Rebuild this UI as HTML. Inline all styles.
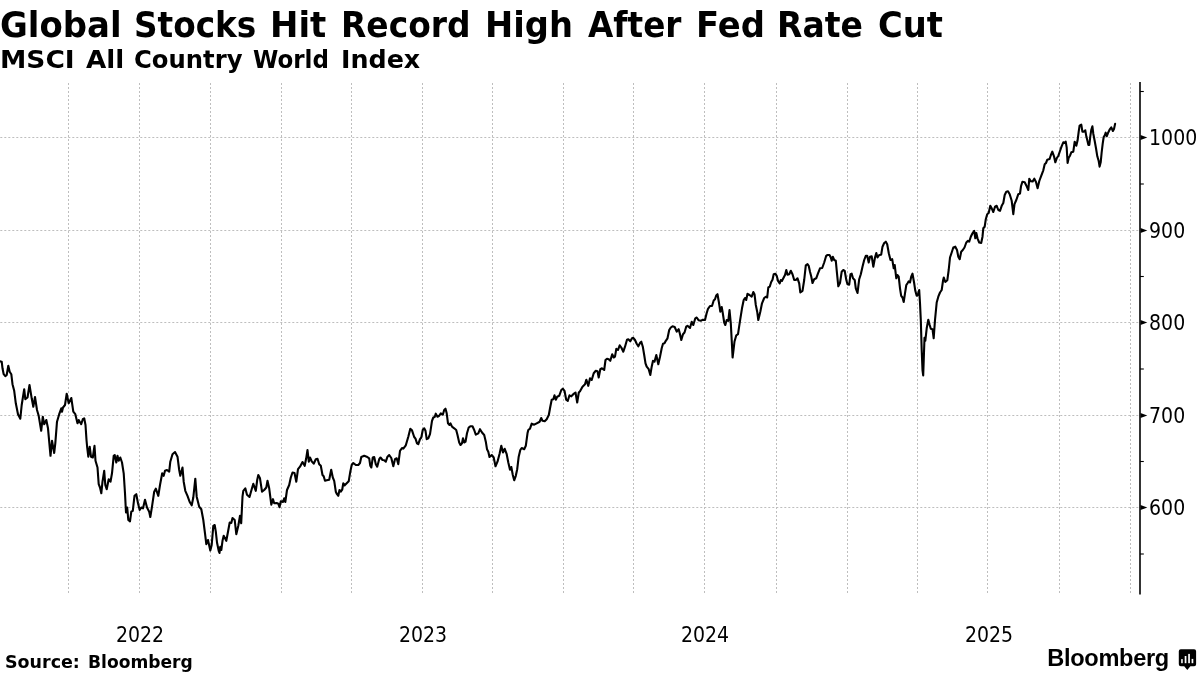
<!DOCTYPE html>
<html lang="en"><head><meta charset="utf-8"><title>Global Stocks Hit Record High After Fed Rate Cut</title>
<style>
html,body{margin:0;padding:0;background:#fff;}
body{width:1200px;height:675px;overflow:hidden;position:relative;font-family:"DejaVu Sans","Liberation Sans",sans-serif;color:#000;}
.title,.sub,.src{position:absolute;left:0;top:0;width:0;height:0;}
.w{position:absolute;white-space:nowrap;transform-origin:0 0;display:block;}
.logo{position:absolute;left:1047.3px;top:644.3px;font-family:"Liberation Sans",sans-serif;font-weight:bold;font-size:23.6px;line-height:28px;letter-spacing:-0.32px;white-space:nowrap;}
svg{position:absolute;left:0;top:0;}
.grid line{stroke:#bebebe;stroke-width:1;stroke-dasharray:2 2;}
.lbl text{font-family:"DejaVu Sans Condensed","DejaVu Sans","Liberation Sans",sans-serif;font-stretch:condensed;font-size:21px;fill:#000;}
</style></head>
<body>
<div class="title"><span class="w" style="left:0.09px;top:4.7px;font:bold 35.5px/40px 'DejaVu Sans','Liberation Sans',sans-serif;transform:scaleX(0.9557)">Global</span>
<span class="w" style="left:133.63px;top:4.7px;font:bold 35.5px/40px 'DejaVu Sans','Liberation Sans',sans-serif;transform:scaleX(0.9219)">Stocks</span>
<span class="w" style="left:269.53px;top:4.7px;font:bold 35.5px/40px 'DejaVu Sans','Liberation Sans',sans-serif;transform:scaleX(0.9564)">Hit</span>
<span class="w" style="left:341.22px;top:4.7px;font:bold 35.5px/40px 'DejaVu Sans','Liberation Sans',sans-serif;transform:scaleX(0.9269)">Record</span>
<span class="w" style="left:485.15px;top:4.7px;font:bold 35.5px/40px 'DejaVu Sans','Liberation Sans',sans-serif;transform:scaleX(0.9494)">High</span>
<span class="w" style="left:587.60px;top:4.7px;font:bold 35.5px/40px 'DejaVu Sans','Liberation Sans',sans-serif;transform:scaleX(0.9208)">After</span>
<span class="w" style="left:695.54px;top:4.7px;font:bold 35.5px/40px 'DejaVu Sans','Liberation Sans',sans-serif;transform:scaleX(0.9530)">Fed</span>
<span class="w" style="left:777.41px;top:4.7px;font:bold 35.5px/40px 'DejaVu Sans','Liberation Sans',sans-serif;transform:scaleX(0.9295)">Rate</span>
<span class="w" style="left:877.50px;top:4.7px;font:bold 35.5px/40px 'DejaVu Sans','Liberation Sans',sans-serif;transform:scaleX(0.9508)">Cut</span></div>
<div class="sub"><span class="w" style="left:0.06px;top:45.1px;font:bold 24.7px/30px 'DejaVu Sans','Liberation Sans',sans-serif;transform:scaleX(1.0723)">MSCI</span>
<span class="w" style="left:85.80px;top:45.1px;font:bold 24.7px/30px 'DejaVu Sans','Liberation Sans',sans-serif;transform:scaleX(1.0618)">All</span>
<span class="w" style="left:133.82px;top:45.1px;font:bold 24.7px/30px 'DejaVu Sans','Liberation Sans',sans-serif;transform:scaleX(0.9835)">Country</span>
<span class="w" style="left:253.07px;top:45.1px;font:bold 24.7px/30px 'DejaVu Sans','Liberation Sans',sans-serif;transform:scaleX(0.9304)">World</span>
<span class="w" style="left:340.95px;top:45.1px;font:bold 24.7px/30px 'DejaVu Sans','Liberation Sans',sans-serif;transform:scaleX(1.0270)">Index</span></div>
<svg width="1200" height="675" viewBox="0 0 1200 675">
<g class="grid">
<line x1="68.5" y1="83" x2="68.5" y2="593"/>
<line x1="139.5" y1="83" x2="139.5" y2="593"/>
<line x1="210.5" y1="83" x2="210.5" y2="593"/>
<line x1="281.5" y1="83" x2="281.5" y2="593"/>
<line x1="351.5" y1="83" x2="351.5" y2="593"/>
<line x1="422.5" y1="83" x2="422.5" y2="593"/>
<line x1="492.5" y1="83" x2="492.5" y2="593"/>
<line x1="563.5" y1="83" x2="563.5" y2="593"/>
<line x1="633.5" y1="83" x2="633.5" y2="593"/>
<line x1="704.5" y1="83" x2="704.5" y2="593"/>
<line x1="776.5" y1="83" x2="776.5" y2="593"/>
<line x1="847.5" y1="83" x2="847.5" y2="593"/>
<line x1="917.5" y1="83" x2="917.5" y2="593"/>
<line x1="987.5" y1="83" x2="987.5" y2="593"/>
<line x1="1059.5" y1="83" x2="1059.5" y2="593"/>
<line x1="1130.5" y1="83" x2="1130.5" y2="593"/>
<line x1="0.3" y1="137.5" x2="1139" y2="137.5"/>
<line x1="0.3" y1="230.5" x2="1139" y2="230.5"/>
<line x1="0.3" y1="322.5" x2="1139" y2="322.5"/>
<line x1="0.3" y1="415.5" x2="1139" y2="415.5"/>
<line x1="0.3" y1="507.5" x2="1139" y2="507.5"/>
</g>
<line x1="1140" y1="82" x2="1140" y2="594.5" stroke="#000" stroke-width="1.6"/>
<g class="lbl">
<path d="M1140.5 134.9 L1147.3 137.5 L1140.5 140.1 Z" fill="#000"/>
<text x="1149.1" y="144.9">1000</text>
<path d="M1140.5 227.9 L1147.3 230.5 L1140.5 233.1 Z" fill="#000"/>
<text x="1149.1" y="237.9">900</text>
<path d="M1140.5 319.9 L1147.3 322.5 L1140.5 325.1 Z" fill="#000"/>
<text x="1149.1" y="329.9">800</text>
<path d="M1140.5 412.9 L1147.3 415.5 L1140.5 418.1 Z" fill="#000"/>
<text x="1149.1" y="422.9">700</text>
<path d="M1140.5 504.9 L1147.3 507.5 L1140.5 510.1 Z" fill="#000"/>
<text x="1149.1" y="514.9">600</text>
<line x1="1140" y1="91.5" x2="1143.8" y2="91.5" stroke="#000" stroke-width="1.1"/>
<line x1="1140" y1="184" x2="1143.8" y2="184" stroke="#000" stroke-width="1.1"/>
<line x1="1140" y1="276.5" x2="1143.8" y2="276.5" stroke="#000" stroke-width="1.1"/>
<line x1="1140" y1="369" x2="1143.8" y2="369" stroke="#000" stroke-width="1.1"/>
<line x1="1140" y1="461.5" x2="1143.8" y2="461.5" stroke="#000" stroke-width="1.1"/>
<line x1="1140" y1="554" x2="1143.8" y2="554" stroke="#000" stroke-width="1.1"/>
<text x="140" y="641.8" text-anchor="middle">2022</text>
<text x="423" y="641.8" text-anchor="middle">2023</text>
<text x="705" y="641.8" text-anchor="middle">2024</text>
<text x="989" y="641.8" text-anchor="middle">2025</text>
</g>
<polyline fill="none" stroke="#000" stroke-width="2.1" stroke-linejoin="round" stroke-linecap="round" points="0,361.3 1.7,361.7 2.5,368.3 3.7,374.2 5.3,376.2 6.7,375 8.3,365.8 9.7,371.7 11.3,374.2 12.5,384.2 14.2,390.8 15.8,403.3 18,414.2 20.3,418.7 21.7,405 24.2,389.2 25.3,399.2 27.5,397.5 29.5,385 31.7,398.3 33.3,406.7 35,397 37,410 38.7,415.8 41.2,430.8 42.8,416.7 44.2,424.2 46.3,420 48,428.3 50.5,455.8 52,440.8 54.2,453 55.3,443.3 57,421.7 59.2,414.2 61.3,408.3 62,411.7 63,407.5 65,405 66.7,393.7 68.7,403.3 71.3,398 73.3,411.7 75.3,414.2 77.5,423.3 78.7,420 81.2,424.2 82.8,419.2 84.2,418.3 85.5,425 86.5,440 87.2,447.5 88.3,456.7 89.7,446.7 91,456.7 92.8,457.5 94.5,445.8 95.5,460.8 97.5,467.5 98.7,484.2 100,487.5 101.3,493.3 102.5,481.7 104.2,470.8 105.3,485 106.7,489.2 108.7,479.2 110.5,481.7 112,473.3 113.7,455.8 114.7,455 116.3,462.5 117.5,455.8 118.7,460.8 120.3,457.5 122,462.5 123.7,473.3 125,493.3 126,512.5 127.2,507.5 128.3,520 130,521.3 131.3,511.7 132.8,510.8 134.5,495.8 136.3,494.2 138,503.3 139.7,510 141.3,507.5 143,508.3 145,499.7 147,507.5 149.2,511.7 150.3,517 152,506.7 154.2,491.7 155.8,488.7 158.3,495.8 160,485 162.2,473.3 163.7,475.8 165,470.8 167,470 169.2,471.7 170.3,461.7 172.5,454.2 175,452 177.5,456.7 179.2,470 180.3,475.8 182.5,467.5 183.7,481.7 185.3,490.8 187.5,495.8 189.7,502 191.7,505.3 193.3,497.5 195.3,478.7 196.7,496.7 199.2,506.7 201.3,509.2 203.3,520 205,533.3 206.3,544.2 208,540 210.3,550.5 211.7,545 213.3,525.8 214.7,525 215.8,531.7 217,542.5 218.7,550.8 219.5,553 220.3,546.7 221.3,550 222.5,540.8 223.7,535.8 226.3,540.8 228,531.7 229.7,522.5 231.3,523 232.5,518 234.7,520 236.3,534.2 238.3,525.8 240,515.8 241.2,523.3 242.5,496.7 243.3,490.8 245.3,488.3 247,494.7 249.5,497 251.7,489.2 253.3,483.8 255.8,490.8 257.2,480 258.3,475 260,478.3 262,491.7 264.2,490 266.3,487.5 267.5,480.8 269.2,488.3 271.3,504.7 273,499.2 274.2,503.3 276.7,503 278.3,503.7 279.5,507.2 280.8,501.3 283,502 284.2,498.3 285.3,502 287,490 289.2,485 290.8,477.5 292.5,472.5 294.5,473 296.3,481.7 298,469.2 300,466.7 302.5,462 304.7,465.8 306.2,458.3 307.5,450 308.8,461.7 310,457.5 311.7,461.3 313.7,463.7 315.8,459.2 317.5,458.7 319.2,464.2 320.8,465.8 322.5,475 323.7,476.3 325,480.8 326.7,480.3 329.2,479.7 331.2,469.7 332.8,477.5 334.2,480.8 335.8,491.7 337,494.2 338.3,495.8 339.5,490 340.8,491.7 342.2,489.7 343.3,483.3 344.7,485.3 346.7,483.3 348.7,481.3 350.3,471.7 351.7,465 353.3,463 355.8,465 358.3,465 360,463 361.3,457 364.2,455.8 366.7,456.7 369.2,458.3 370.3,465.8 371.3,467.5 372.8,457.5 374.2,457 375.8,464.2 377.2,466.7 379.2,459.2 380.5,457.5 382.5,460 384.2,460.3 385.8,461.7 387.5,456.7 389.2,455 391.3,458 393.3,466.3 395,459.2 396.7,458.3 398.3,464.2 400,450.8 402,448 403.3,448.7 405.8,445.3 408.3,436.7 410.3,428.8 412,430.3 414.2,437 415.5,438.7 417,443.3 418.3,444.2 420,439.2 421.3,437.5 422.8,429.7 424.2,428.3 425.5,430.8 426.7,439.2 428.3,438.3 430,434.2 432,420.8 433.3,417.5 434.7,417 435.8,413.7 437.5,416.7 439.2,415.8 440.8,413.3 442.8,414.7 444.2,410 445.5,408.7 446.7,413.3 448,423.3 449.5,425 450.5,423.3 452,426.7 454.2,428.3 456.2,430 457.5,435 459.2,442.5 460.5,445 462,443.3 463,438.3 464.2,442.5 465.5,441.7 467,433.3 468.7,427.5 470.3,426.3 472.5,426.3 474.2,430 475.8,434.7 478.3,433.3 480,429.2 482,432.5 484.2,435 485.8,441.7 487,449.2 488.3,451.7 489.5,457 491.7,455 493.7,457.5 495.5,466.3 497.5,461.7 499.7,453.3 501.3,445.8 503,452.5 504.7,448.8 506.7,454.2 508.3,462.5 510,469.7 511.3,467 512.8,475 514.2,480.3 515.8,475.8 517.2,469.2 518.7,456.7 520.3,450 521.7,448 524.2,449.2 525.8,445.8 527.5,433.3 528.3,430 530,428.7 531.7,423.7 534.2,424.7 536.7,423.3 539.7,421.7 541.2,418 542.5,420.8 544.7,421.3 546.7,419.2 548.8,415 550.3,406.7 551.7,399.7 553.3,399.2 554.5,395.3 555.8,399.7 557.2,396.7 559.2,395.8 561.3,390 562.8,388.7 564.5,390.8 566.2,399.7 567.8,400.8 569.5,395.3 571.3,396.3 573.3,394.2 575.5,392.5 577.2,402.5 578.8,392.5 580,391.3 582.5,386.7 585,384.2 586.3,379.7 588.3,385.8 590,378.3 591.7,380 593.7,373.3 595.8,370.8 597.5,371.3 598.7,377.5 600.3,369.2 602,368.3 604.2,370 605.5,360 607,358.7 608.7,359.2 610.3,360.8 612.2,354.2 613.7,357.5 615,356.7 616.3,348.8 618,350 619.7,345.3 621.3,347.5 623.3,351.7 625,346.7 627,339.7 628.3,339.2 630.3,341.3 632,338.3 633.3,337.8 635,340 636.7,343.7 638.3,346.3 640.3,342.5 641.3,341.7 642.8,346.7 644.2,355 645.5,363.3 646.7,366.7 648.7,369.2 650.3,375 651.7,366.7 653,360.8 654.5,361.7 656.3,355 658.3,364.2 660,356.7 661.7,348.3 663,343.7 664.5,343.3 665.8,340.8 667.5,338.3 669.2,330 670.8,327.5 672.5,326.3 674.7,327 676.7,331.7 678.7,329.2 680,334.2 681.3,340 683,334.2 684.5,332.5 686.2,326.7 687.5,325.8 690,328 691.7,321.7 693.3,325 695.3,318.3 696.7,317.5 698.7,320.3 700.8,320.8 702.8,319.7 705,320 706.5,313.8 708,308.8 710,306 712,306 713.7,300.5 715,299.2 716.2,295.5 717.5,294.2 718.8,301.7 720.3,311.7 721.7,307 722.8,313.3 724.2,322.5 725.3,325 726.7,320 728.3,320.8 729.5,310 730.8,323.3 731.7,340 732.6,357.5 733.5,350 734.5,341.5 736.3,335.3 738,334.2 740,320.8 742,308.3 743.7,300 745,298 746.2,300 747.5,293.8 749.5,295 751.7,296.7 753.3,292 754.5,294.2 755.8,305 757.2,311.7 758.3,320 760.3,311.7 762,303.3 764.2,298 765.8,296.7 767.2,297.5 768.3,287.5 769.7,286.7 771.2,282 772.5,279.7 773.7,274.2 775.3,273.7 776.7,275.8 778,280.8 779.7,283.3 780.8,280 782,280.8 783.7,277.5 785,275 786.3,270 787.5,274.7 789.2,274.2 790.8,270.8 792.5,274.2 794.2,280 795.8,280 797.5,278.3 799.2,283.3 800.3,292.5 802.5,290.8 804.2,280 805.8,265.3 807.5,264.2 808.7,265.8 810,271.7 811.3,276.7 812.5,283 814.2,279.2 816.2,278.3 818,273.3 820,268.3 822.2,268 824.2,262.5 826.2,255.8 827.5,255 829.5,255 830.8,257.5 831.7,260.8 832.8,256.7 834.2,260 835.8,260.8 837,273.3 838.3,286.3 840,283 841.7,271.7 843.3,270 844.7,270.8 846.3,280 847.5,284.2 849.2,284.7 850.5,274.2 851.7,273.7 853,278.3 854.7,280 855.8,288.3 857.5,293 859.2,279.2 860.8,274.2 862.5,266.7 864.2,260 865.8,255.8 867.2,255.8 868.7,262.5 870,256.7 871.7,256.3 873.3,266.7 875,257.5 876.3,253 877.5,257.5 879.2,255 881.2,254.7 882.5,246.7 884.2,243 885.8,241.7 887.2,244.2 888.8,253.3 890.5,260 892.2,259.2 893.7,268.3 894.7,265 896.3,278.3 897.5,275 898.7,276.7 900,288.3 901.2,295.8 902.5,297.5 903.7,302 905,293.3 906.3,285 907.5,283.3 908.7,281.3 910,282.5 911.2,276.7 912.5,273.7 914.2,283.3 915.3,290.8 916.7,295.8 917.8,295 919.2,290 920,303.3 920.8,320 921.7,350 922.5,370 923.2,375.4 923.8,358 924.5,337.8 925.3,340.8 926.7,328.3 928.3,319.7 929.7,325 930.8,328.7 932.5,329.2 933.7,338.3 935,320 936.7,302.5 938.3,296.7 940,292.5 941.7,290 943,280.8 943.8,277.5 945.3,282 947.3,280.3 948.7,270 950,257.5 951.7,252.5 953.3,247.5 955.3,246.7 957,250 958.3,256.7 959.7,259.2 961.2,251.7 962.8,250 964.5,247.5 966.3,242.5 968,240.8 969.2,241.7 970.8,236.7 972.5,233.3 974.2,230.8 975.3,238.3 976.3,233 977.5,238.3 979.2,242.5 981.2,243 982.5,236.7 983.3,228.3 984.7,226.7 985.8,219.2 987.2,214.2 988.7,213 990.3,205.8 991.7,208.3 993.3,212 995,206.7 996.7,205.8 998.3,210 1000,210.8 1001.7,205.8 1003.3,203 1004.7,195 1006.3,191.7 1008,191.3 1009.7,194.2 1011.7,200.8 1013.3,214.2 1014.5,204.2 1016.3,200 1018.3,194.2 1020,193.5 1021,186.3 1022.4,181.7 1024.7,182.3 1026.4,185.7 1028.3,190 1029.3,178.7 1030.7,181.3 1032.7,181.4 1034.3,178.7 1036,182 1037.6,188.3 1039.3,181 1041.3,175.7 1043.3,170.3 1044.7,164.3 1046,163 1047.3,159.7 1049.6,159 1050.9,155 1052.3,151.7 1054,156.3 1055.3,162.3 1056.7,158.3 1058.4,155.7 1060,151 1061.6,146.3 1063.3,142.3 1064.7,143 1065.7,141.7 1066.7,147.7 1067.6,163 1068.7,157.7 1070,155.7 1071.3,152.3 1073.3,151.7 1074.7,141.7 1076.3,145.7 1077.6,140.3 1078.7,131.7 1079.6,125.7 1081.3,124.7 1082.4,131.7 1083.7,131.7 1085.3,130.3 1086.3,136.3 1087.3,140.3 1088.4,145 1089.3,145 1090.3,136.3 1091.3,129.7 1092.4,126.3 1093.3,133.7 1094.7,141 1096,148.3 1097.3,156.3 1098.7,161 1099.6,166.6 1100.7,162.3 1101.6,153 1102.7,143.7 1103.7,137 1104.9,135 1105.7,132.7 1106.7,136.3 1108,133 1109.6,129.7 1111.3,127.4 1112.9,131 1114,129 1115.1,123.9"/>
<g>
<path d="M1180.8 649.2h13.3a2 2 0 0 1 2 2v13a2 2 0 0 1-2 2h-3.7l-3.1 3.7l-3.1-3.7h-3.4a2 2 0 0 1-2-2v-13a2 2 0 0 1 2-2z" fill="#000"/>
<rect x="1181.1" y="659.1" width="1.7" height="4.1" fill="#e8e8e8"/><rect x="1184.7" y="656" width="1.7" height="7.2" fill="#fff"/><rect x="1188.2" y="653.9" width="1.7" height="9.3" fill="#fff"/><rect x="1191.6" y="658.9" width="1.7" height="4.3" fill="#fff"/>
</g>
</svg>
<div class="src"><span class="w" style="left:5.19px;top:651.2px;font:bold 17.3px/22px 'DejaVu Sans','Liberation Sans',sans-serif;transform:scaleX(1.0113)">Source:</span>
<span class="w" style="left:87.52px;top:651.2px;font:bold 17.3px/22px 'DejaVu Sans','Liberation Sans',sans-serif;transform:scaleX(0.9902)">Bloomberg</span></div>
<div class="logo">Bloomberg</div>
</body></html>
